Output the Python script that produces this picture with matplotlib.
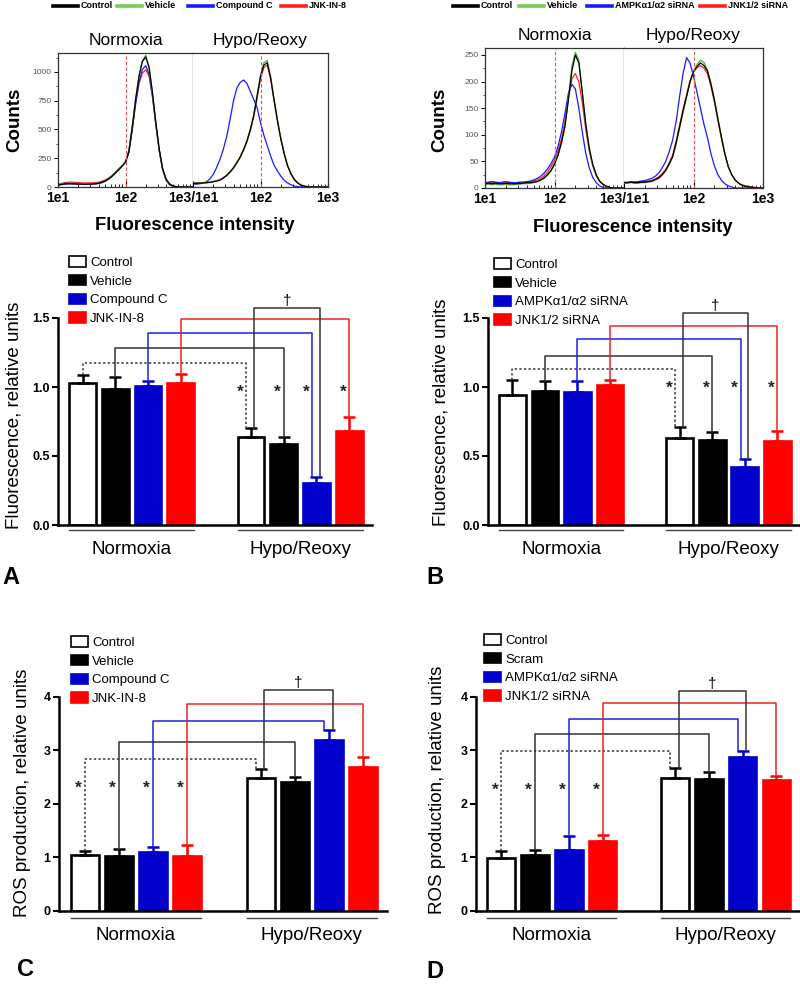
import numpy as np
import matplotlib
matplotlib.use("Agg")
import matplotlib.pyplot as plt
from matplotlib.patches import Patch
from matplotlib.lines import Line2D
from matplotlib.ticker import NullFormatter

plt.rcParams['font.family'] = ['Liberation Sans', 'DejaVu Sans']

W, H = 800, 985

# ---------------- flow cytometry histograms (counts per log10 bin) ----------------
log_bins = np.linspace(1.0, 3.0, 41)

hist_a_labels = ["Control", "Vehicle", "Compound C", "JNK-IN-8"]
hist_b_labels = ["Control", "Vehicle", "AMPK\u03b11/\u03b12 siRNA", "JNK1/2 siRNA"]

a_norm_control = [18, 22, 28, 30, 30, 28, 26, 25, 24, 25, 26, 28, 32, 40, 52, 70, 92, 120, 150, 180, 215, 310, 520, 760, 960, 1090, 1130, 1040, 820, 560, 330, 160, 70, 28, 10, 3, 0, 0, 0, 0, 0]
a_norm_vehicle = [20, 24, 30, 32, 32, 30, 28, 26, 25, 26, 27, 30, 34, 42, 55, 72, 95, 125, 155, 185, 220, 320, 530, 770, 970, 1100, 1145, 1030, 810, 550, 320, 150, 65, 25, 8, 2, 0, 0, 0, 0, 0]
a_norm_compc = [15, 20, 24, 26, 26, 25, 24, 23, 22, 23, 24, 26, 30, 38, 50, 70, 95, 125, 155, 185, 215, 300, 500, 730, 910, 1020, 1055, 980, 790, 540, 310, 150, 60, 20, 5, 0, 0, 0, 0, 0, 0]
a_norm_jnk = [25, 30, 38, 42, 42, 40, 38, 36, 35, 35, 36, 38, 42, 50, 62, 78, 100, 128, 158, 188, 220, 305, 500, 720, 900, 990, 1020, 960, 780, 540, 320, 160, 70, 28, 10, 3, 0, 0, 0, 0, 0]

a_hypo_control = [30, 32, 34, 35, 37, 40, 45, 52, 60, 78, 100, 130, 165, 210, 260, 325, 400, 500, 620, 790, 960, 1060, 1080, 950, 760, 580, 420, 290, 185, 115, 65, 35, 16, 7, 2, 0, 0, 0, 0, 0, 0]
a_hypo_vehicle = [32, 34, 35, 36, 38, 41, 46, 54, 62, 80, 102, 132, 168, 215, 265, 330, 405, 505, 630, 800, 975, 1080, 1100, 960, 765, 585, 425, 295, 188, 118, 66, 36, 17, 7, 2, 0, 0, 0, 0, 0, 0]
a_hypo_compc = [25, 25, 28, 35, 45, 70, 110, 170, 240, 330, 440, 590, 750, 860, 910, 930, 900, 830, 760, 690, 560, 450, 360, 270, 190, 140, 95, 60, 35, 20, 9, 3, 0, 0, 0, 0, 0, 0, 0, 0, 0]
a_hypo_jnk = [33, 35, 36, 37, 39, 42, 48, 55, 64, 82, 104, 134, 170, 215, 262, 322, 395, 490, 610, 775, 940, 1040, 1060, 940, 755, 580, 425, 295, 190, 118, 68, 37, 17, 7, 2, 0, 0, 0, 0, 0, 0]

b_norm_control = [8, 9, 8, 9, 8, 8, 9, 8, 8, 8, 9, 9, 10, 10, 11, 12, 15, 19, 25, 33, 45, 62, 85, 115, 165, 220, 250, 235, 180, 120, 75, 45, 25, 13, 7, 3, 1, 0, 0, 0, 0]
b_norm_vehicle = [6, 7, 6, 7, 6, 6, 7, 6, 6, 7, 7, 8, 8, 9, 10, 12, 14, 18, 24, 32, 44, 60, 84, 118, 170, 228, 255, 240, 178, 118, 72, 42, 23, 12, 6, 3, 1, 0, 0, 0, 0]
b_norm_ampk = [10, 11, 12, 11, 10, 11, 12, 11, 10, 10, 11, 11, 12, 13, 15, 18, 22, 28, 36, 46, 58, 78, 105, 140, 178, 195, 186, 150, 105, 65, 38, 20, 10, 4, 1, 0, 0, 0, 0, 0, 0]
b_norm_jnk = [9, 10, 11, 10, 9, 10, 11, 10, 9, 9, 10, 10, 11, 12, 13, 15, 18, 23, 30, 40, 52, 70, 92, 125, 170, 205, 215, 200, 160, 110, 70, 42, 24, 12, 6, 3, 1, 0, 0, 0, 0]

b_hypo_control = [10, 10, 11, 10, 10, 11, 11, 12, 13, 16, 19, 25, 33, 45, 59, 85, 115, 145, 172, 200, 218, 228, 235, 230, 220, 195, 165, 130, 96, 65, 40, 25, 15, 9, 5, 3, 2, 1, 0, 0, 0]
b_hypo_vehicle = [9, 9, 10, 9, 9, 10, 10, 11, 12, 15, 18, 24, 32, 44, 58, 82, 112, 142, 170, 198, 220, 232, 240, 236, 222, 198, 168, 132, 98, 66, 41, 25, 15, 9, 5, 3, 2, 1, 0, 0, 0]
b_hypo_ampk = [10, 10, 11, 11, 12, 13, 14, 16, 18, 22, 28, 38, 50, 68, 90, 125, 172, 215, 245, 235, 210, 180, 150, 120, 95, 65, 42, 25, 15, 8, 4, 2, 0, 0, 0, 0, 0, 0, 0, 0, 0]
b_hypo_jnk = [11, 11, 12, 11, 11, 12, 12, 13, 14, 17, 21, 27, 35, 47, 62, 88, 118, 148, 175, 202, 218, 226, 230, 225, 215, 192, 162, 128, 95, 64, 40, 25, 15, 9, 6, 4, 3, 2, 1, 0, 0]

hist_colors = ["black", "#4caf3c", "#1a1aff", "#ff2020"]
legend_colors = ["black", "#7acc5a", "#1a1aff", "#ff2020"]

# ---------------- bar charts ----------------
a_labels = ["Control", "Vehicle", "Compound C", "JNK-IN-8"]
b_labels = ["Control", "Vehicle", "AMPK\u03b11/\u03b12 siRNA", "JNK1/2 siRNA"]
c_labels = ["Control", "Vehicle", "Compound C", "JNK-IN-8"]
d_labels = ["Control", "Scram", "AMPK\u03b11/\u03b12 siRNA", "JNK1/2 siRNA"]
groups = ["Normoxia", "Hypo/Reoxy"]

# order: Normoxia x4, Hypo/Reoxy x4
a_values = [1.03, 0.985, 1.01, 1.03, 0.64, 0.587, 0.304, 0.68]
a_errors = [0.06, 0.085, 0.03, 0.065, 0.06, 0.05, 0.045, 0.10]
b_values = [0.942, 0.973, 0.966, 1.014, 0.628, 0.616, 0.423, 0.611]
b_errors = [0.108, 0.07, 0.074, 0.036, 0.08, 0.056, 0.055, 0.07]
c_values = [1.04, 1.02, 1.10, 1.03, 2.475, 2.41, 3.19, 2.69]
c_errors = [0.08, 0.13, 0.09, 0.19, 0.17, 0.08, 0.18, 0.18]
d_values = [0.98, 1.04, 1.135, 1.30, 2.475, 2.455, 2.867, 2.44]
d_errors = [0.13, 0.09, 0.26, 0.11, 0.19, 0.13, 0.11, 0.08]

# heights of the comparison brackets: dotted, black, blue, red, dagger
a_brackets = [1.176, 1.285, 1.394, 1.493, 1.573]
b_brackets = [1.128, 1.225, 1.345, 1.44, 1.533]
c_brackets = [2.835, 3.15, 3.545, 3.87, 4.125]
d_brackets = [2.99, 3.297, 3.58, 3.875, 4.11]

bar_face = ["white", "black", "#0000cc", "#ff0000"]
bar_edge = ["black", "black", "#0000cc", "#ff0000"]
bar_x = np.array([0, 1, 2, 3, 5.15, 6.15, 7.15, 8.15])

fig = plt.figure(figsize=(W / 100, H / 100), dpi=100)


def px_axes(l, t, r, b):
    return fig.add_axes([l / W, 1 - b / H, (r - l) / W, (b - t) / H])


def fx(x):
    return x / W


def fy(y):
    return 1 - y / H


def hist_pair(l, m, r, top, bottom, ymax, yticks, yminor, norm_curves, hypo_curves,
              legend_labels, legend_x, xlabel_xy, ylabel_xy):
    axl = px_axes(l, top, m, bottom)
    axr = px_axes(m, top, r, bottom)
    for ax, curves, title in ((axl, norm_curves, "Normoxia"), (axr, hypo_curves, "Hypo/Reoxy")):
        for k in (3, 2, 1, 0):
            ax.plot(10 ** log_bins, curves[k], color=hist_colors[k], lw=0.9)
        ax.axvline(100, color="#e85050", ls=(0, (3, 2)), lw=0.8)
        ax.set_xscale("log")
        ax.set_xlim(10, 1000)
        ax.set_ylim(0, ymax)
        ax.set_title(title, fontsize=12.5, pad=6)
        ax.tick_params(axis="x", which="major", direction="in", length=4, width=0.8,
                       labelsize=10, pad=3)
        ax.tick_params(axis="x", which="minor", direction="in", length=2, width=0.6)
        ax.xaxis.set_minor_formatter(NullFormatter())
        for s in ax.spines.values():
            s.set_color("#333333")
            s.set_linewidth(0.9)
    axl.set_xticks([10, 100, 1000], ["1e1", "1e2", "1e3/1e1"], fontweight="bold")
    axr.set_xticks([10, 100, 1000], ["", "1e2", "1e3"], fontweight="bold")
    axl.set_yticks(yticks)
    axl.set_yticks(yminor, minor=True)
    axl.tick_params(axis="y", which="major", direction="out", length=3, width=0.7,
                    labelsize=6, labelcolor="#555555", pad=1.5)
    axl.tick_params(axis="y", which="minor", direction="out", length=1.5, width=0.5)
    axr.set_yticks([])
    axr.spines["left"].set_visible(False)
    fig.text(fx(ylabel_xy[0]), fy(ylabel_xy[1]), "Counts", rotation=90, ha="center",
             va="center", fontsize=13.5, fontweight="bold")
    fig.text(fx(xlabel_xy[0]), fy(xlabel_xy[1]), "Fluorescence intensity", ha="center",
             va="center", fontsize=13.3, fontweight="bold")
    for lab, c, x0 in zip(legend_labels, legend_colors, legend_x):
        fig.add_artist(Line2D([fx(x0), fx(x0 + 25)], [fy(6), fy(6)], color=c, lw=2.6))
        fig.text(fx(x0 + 28), fy(6), lab, ha="left", va="center", fontsize=6.5,
                 fontweight="bold")


hist_pair(58, 193, 328, 53, 187, 1165, [0, 250, 500, 750, 1000], np.arange(125, 1165, 125),
          [a_norm_control, a_norm_vehicle, a_norm_compc, a_norm_jnk],
          [a_hypo_control, a_hypo_vehicle, a_hypo_compc, a_hypo_jnk],
          hist_a_labels, [53, 117, 188, 281], (195, 225), (15, 120))
hist_pair(485, 624, 763, 48, 188, 263, [0, 50, 100, 150, 200, 250], np.arange(25, 263, 25),
          [b_norm_control, b_norm_vehicle, b_norm_ampk, b_norm_jnk],
          [b_hypo_control, b_hypo_vehicle, b_hypo_ampk, b_hypo_jnk],
          hist_b_labels, [453, 519, 587, 700], (633, 228), (440, 120))

pairs = [(0, 4), (1, 5), (2, 6), (3, 7), (4, 6)]
pair_colors = ["#333333", "#333333", "#2020dd", "#ee2222", "#333333"]
pair_styles = [(0, (1.5, 1.5)), "-", "-", "-", "-"]
left_off = [0, 0, 0, 0, 0.1]
right_off = [-0.14, 0, -0.13, 0, 0.11]


def bar_panel(l, r, base, ppu, top, ytop, ystep, fmt, values, errors, labels, brackets,
              star_y, star_side, ylabel, ylabel_xy, legend_top, legend_left,
              under_px, group_px):
    ymax = (base - top) / ppu
    ax = px_axes(l, top, r, base)
    ax.set_xlim(-0.75, 8.85)
    ax.set_ylim(0, ymax)
    faces = bar_face * 2
    edges = bar_edge * 2
    ax.bar(bar_x, values, width=0.82, color=faces, edgecolor=edges, linewidth=1.9, zorder=2)
    for x, v, e, c in zip(bar_x, values, errors, edges):
        ax.errorbar(x, v, yerr=[[0], [e]], fmt="none", ecolor=c, elinewidth=1.8,
                    capsize=4.5, capthick=1.8, zorder=3)
    tops = np.array(values) + np.array(errors)
    for k, (i, j) in enumerate(pairs):
        x1 = bar_x[i] + left_off[k]
        x2 = bar_x[j] + right_off[k]
        h = brackets[k]
        ax.plot([x1, x1, x2, x2], [tops[i], h, h, tops[j]], color=pair_colors[k],
                ls=pair_styles[k], lw=1.1, clip_on=False, zorder=4)
        if k < 4:
            xs = (x2 if star_side == "hypo" else x1) - 0.19
            ax.text(xs, star_y, "*", ha="center", va="center", fontsize=12.5,
                    fontweight="bold", color="#222222")
        else:
            ax.text((x1 + x2) / 2, h, "\u2020", ha="center", va="bottom", fontsize=11)
    for s in ("top", "right"):
        ax.spines[s].set_visible(False)
    for s in ("left", "bottom"):
        ax.spines[s].set_linewidth(1.8)
    ax.spines["left"].set_bounds(0, ytop)
    ticks = np.arange(0, ytop + 1e-9, ystep)
    ax.set_yticks(ticks, [fmt % t for t in ticks], fontweight="bold", fontsize=9)
    ax.tick_params(axis="y", direction="out", length=4, width=1.5, pad=2)
    ax.set_xticks([])
    # group underlines and names
    uy = -under_px / ppu
    gy = -group_px / ppu
    for g, sl in zip(groups, (slice(0, 4), slice(4, 8))):
        xs = bar_x[sl]
        ax.plot([xs[0] - 0.41, xs[-1] + 0.41], [uy, uy], color="#444444", lw=1,
                clip_on=False)
        ax.text(xs.mean(), gy, g, ha="center", va="center", fontsize=13.5)
    handles = [Patch(facecolor=f, edgecolor=e, linewidth=1.2) for f, e in zip(bar_face, bar_edge)]
    ax.legend(handles, labels, loc="upper left", frameon=False, fontsize=9.5,
              bbox_to_anchor=((legend_left - l) / (r - l), (base - legend_top) / (base - top)),
              handlelength=1.3, handleheight=0.85, handletextpad=0.3, labelspacing=0.45,
              borderaxespad=0, borderpad=0)
    fig.text(fx(ylabel_xy[0]), fy(ylabel_xy[1]), ylabel, rotation=90, ha="center",
             va="center", fontsize=13.5)
    return ax


bar_panel(58, 372, 525, 138, 249, 1.5, 0.5, "%.1f", a_values, a_errors, a_labels,
          a_brackets, 0.965, "hypo", "Fluorescence, relative units", (14, 415), 256, 69, 5, 24)
bar_panel(488, 800, 525, 138, 249, 1.5, 0.5, "%.1f", b_values, b_errors, b_labels,
          b_brackets, 0.99, "hypo", "Fluorescence, relative units", (441, 412), 258, 494, 5, 24)
bar_panel(59, 387, 910.7, 53.5, 621.7, 4, 1, "%d", c_values, c_errors, c_labels,
          c_brackets, 2.29, "norm", "ROS production, relative units", (23, 793), 636, 71, 7, 25)
bar_panel(476, 800, 910.7, 53.5, 621.7, 4, 1, "%d", d_values, d_errors, d_labels,
          d_brackets, 2.25, "norm", "ROS production, relative units", (437, 790), 634, 484, 7, 25)

for letter, x, y in (("A", 11, 577), ("B", 435, 577), ("C", 25, 970), ("D", 435, 971)):
    fig.text(fx(x), fy(y), letter, ha="center", va="center", fontsize=17, fontweight="bold")

fig.savefig("out.png", dpi=100)
